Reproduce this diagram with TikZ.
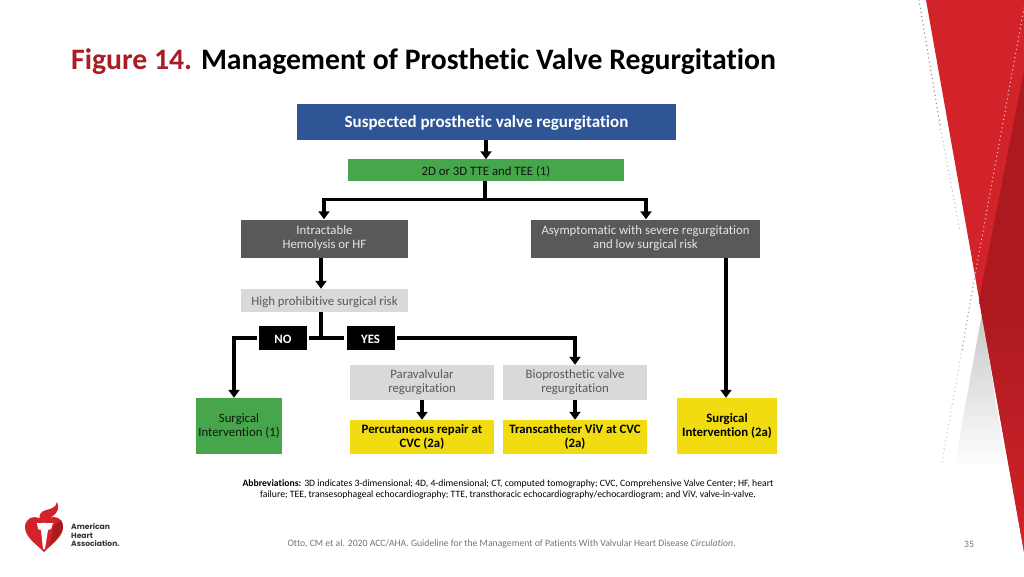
\documentclass[tikz,border=0pt]{standalone}
\RequirePackage{fontspec}
\setmainfont[Ligatures=NoCommon]{Carlito}
\newfontfamily\logofont{Poppins}
\usetikzlibrary{calc}
\usetikzlibrary{arrows.meta}
\definecolor{ahared}{HTML}{D2232A}
\definecolor{ahadark}{HTML}{AC1A20}
\definecolor{titlered}{HTML}{A81E22}
\definecolor{boxblue}{HTML}{2F5597}
\definecolor{boxgreen}{HTML}{47A64C}
\definecolor{boxdark}{HTML}{595959}
\definecolor{boxlight}{HTML}{D9D9D9}
\definecolor{boxyellow}{HTML}{F0DC10}
\tikzset{
    box/.style={rectangle,inner sep=0pt,align=center,execute at begin node={\rule{0pt}{11.5pt}},font=\fontsize{12.8}{14}\selectfont},
    bluebox/.style={box,fill=boxblue,text=white,execute at begin node={\rule{0pt}{14.5pt}},font=\fontsize{17}{19}\selectfont\bfseries},
    greenbox/.style={box,fill=boxgreen,text=black!85!boxgreen},
    darkbox/.style={box,fill=boxdark,text=white!90!black},
    lightbox/.style={box,fill=boxlight,text=boxdark},
    yellowbox/.style={box,fill=boxyellow,text=black,font=\fontsize{12.8}{14}\selectfont\bfseries},
    tagbox/.style={box,fill=black,text=white,font=\fontsize{12.8}{14}\selectfont\bfseries,minimum width=48pt,minimum height=24pt},
    link/.style={line width=3.3pt},
    linkarrow/.style={link,-{Triangle[length=8pt,width=11pt]}},
    dots/.style={line width=1.5pt,line cap=round,dash pattern=on 0pt off 4.2pt}
}
\begin{document}
\begin{tikzpicture}[x=1pt,y=-1pt]
    \useasboundingbox (0,0) rectangle (1024,576);

    % corner decoration
    \begin{scope}
        \clip (0,0) rectangle (1024,576);
        \shade[top color=black!22,bottom color=white] (982,313) -- (954,468) -- (1006,468) -- cycle;
        \fill[ahared] (926,0) -- (1024,0) -- (1024,552) -- cycle;
        \shade[top color=ahadark,bottom color=ahared,middle color=ahadark] (1024,70) -- (979,300) -- (1024,552) -- cycle;
        \draw[dots,black!45] (919,0) -- (940,125);
        \draw[dots,black!25] (940,125) -- (960,232);
        \draw[dots,white!70!ahared] (1024,8) -- (975,275);
        \draw[dots,black!40] (975,275) -- (962,350);
        \draw[dots,black!20] (962,350) -- (942,462);
    \end{scope}

    \node[anchor=west,inner sep=0pt,font=\fontsize{29.7}{32}\selectfont\bfseries] (title) at (71,61.5)
        {\textcolor{titlered}{Figure 14.} Management of Prosthetic Valve Regurgitation};

    % boxes
    \node[bluebox,minimum width=379pt,minimum height=36pt] (suspected) at (486.5,122) {Suspected prosthetic valve regurgitation};
    \node[greenbox,minimum width=276pt,minimum height=21.5pt] (imaging) at (486,170.2) {2D or 3D TTE and TEE (1)};
    \node[darkbox,minimum width=167pt,minimum height=38pt] (intractable) at (324.5,238.5) {Intractable\\Hemolysis or HF};
    \node[darkbox,minimum width=229pt,minimum height=38pt] (asymptomatic) at (645.5,238.5) {Asymptomatic with severe regurgitation\\and low surgical risk};
    \node[lightbox,minimum width=167pt,minimum height=23pt] (prohibitive) at (324.5,300.5) {High prohibitive surgical risk};
    \node[tagbox] (no) at (283,338) {NO};
    \node[tagbox] (yes) at (370.5,338) {YES};
    \node[lightbox,minimum width=144pt,minimum height=35pt] (paravalvular) at (422,382.5) {Paravalvular\\regurgitation};
    \node[lightbox,minimum width=144pt,minimum height=35pt] (bioprosthetic) at (575,382.5) {Bioprosthetic valve\\regurgitation};
    \node[greenbox,minimum width=86pt,minimum height=56pt] (surgeryone) at (239,426) {Surgical\\Intervention (1)};
    \node[yellowbox,minimum width=144pt,minimum height=34pt] (repair) at (422,437) {Percutaneous repair at\\CVC (2a)};
    \node[yellowbox,minimum width=144pt,minimum height=34pt] (viv) at (575,437) {Transcatheter ViV at CVC\\(2a)};
    \node[yellowbox,minimum width=100pt,minimum height=56pt] (surgerytwo) at (727,426) {Surgical\\Intervention (2a)};

    \coordinate (split) at (485,199.5);
    \coordinate (fork) at (321,338);

    % connectors
    \draw[linkarrow] (suspected.south-|486,0) -- (imaging.north-|486,0);
    \draw[link] (imaging.south-|485,0) -- (split);
    \draw[linkarrow] (split) -| (intractable.north-|324,0);
    \draw[linkarrow] (split) -| (asymptomatic.north-|646,0);
    \draw[linkarrow] (intractable.south-|321,0) -- (prohibitive.north-|321,0);
    \draw[link] (prohibitive.south-|321,0) -- (fork);
    \draw[link] (fork) -- ([xshift=-2pt]yes.west);
    \draw[link] (fork) -- ([xshift=2pt]no.east);
    \draw[linkarrow] ([xshift=-2pt]no.west) -| (surgeryone.north-|234,0);
    \draw[linkarrow] ([xshift=2pt]yes.east) -| (bioprosthetic.north);
    \draw[linkarrow] (paravalvular.south) -- (repair.north);
    \draw[linkarrow] (bioprosthetic.south) -- (viv.north);
    \draw[linkarrow] (asymptomatic.south-|726,0) -- (surgerytwo.north-|726,0);

    % notes
    \node[align=center,font=\fontsize{9.7}{10.6}\selectfont] (abbreviations) at (508,489.5)
        {\textbf{Abbreviations:} 3D indicates 3-dimensional; 4D, 4-dimensional; CT, computed tomography; CVC, Comprehensive Valve Center; HF, heart\\
        failure; TEE, transesophageal echocardiography; TTE, transthoracic echocardiography/echocardiogram; and ViV, valve-in-valve.};
    \node[font=\fontsize{9.7}{10}\selectfont,text=black!55] (citation) at (511.5,544)
        {Otto, CM et al. 2020 ACC/AHA. Guideline for the Management of Patients With Valvular Heart Disease \emph{Circulation}.};
    \node[font=\fontsize{9.7}{10}\selectfont,text=black!55] (pagenumber) at (969,544) {35};

    % logo
    \fill[ahared] (44,552) .. controls (36,544) and (25,537) .. (25,527)
        .. controls (25,519) and (33,515) .. (39,518) .. controls (41,519) and (43,521) .. (44,523)
        .. controls (46,520) and (50,517) .. (54,517) .. controls (60,517) and (63,522) .. (63,527)
        .. controls (63,537) and (52,544) .. (44,552) -- cycle;
    \fill[ahadark] (49,546) .. controls (55,540) and (62,534) .. (63,527) .. controls (63,524) and (62,522) .. (61,520) -- (54,526) -- cycle;
    \fill[white] (37,523) -- (53,523) -- (51,529) -- (48,530) -- (45,549) -- (43,549) -- (41,530) -- (38,529) -- cycle;
    \fill[ahared] (41,522) .. controls (37,516) and (41,511) .. (46,510) .. controls (50,509) and (56,508) .. (57,502)
        .. controls (60,508) and (57,513) .. (53,516) .. controls (50,518) and (49,520) .. (48,522) -- cycle;
    \node[anchor=west,align=left,inner sep=0pt,text=black!80,font=\logofont\bfseries\fontsize{7.6}{8.9}\selectfont] (logotext) at (71,535)
        {American\\Heart\\Association.};
\end{tikzpicture}
\end{document}
